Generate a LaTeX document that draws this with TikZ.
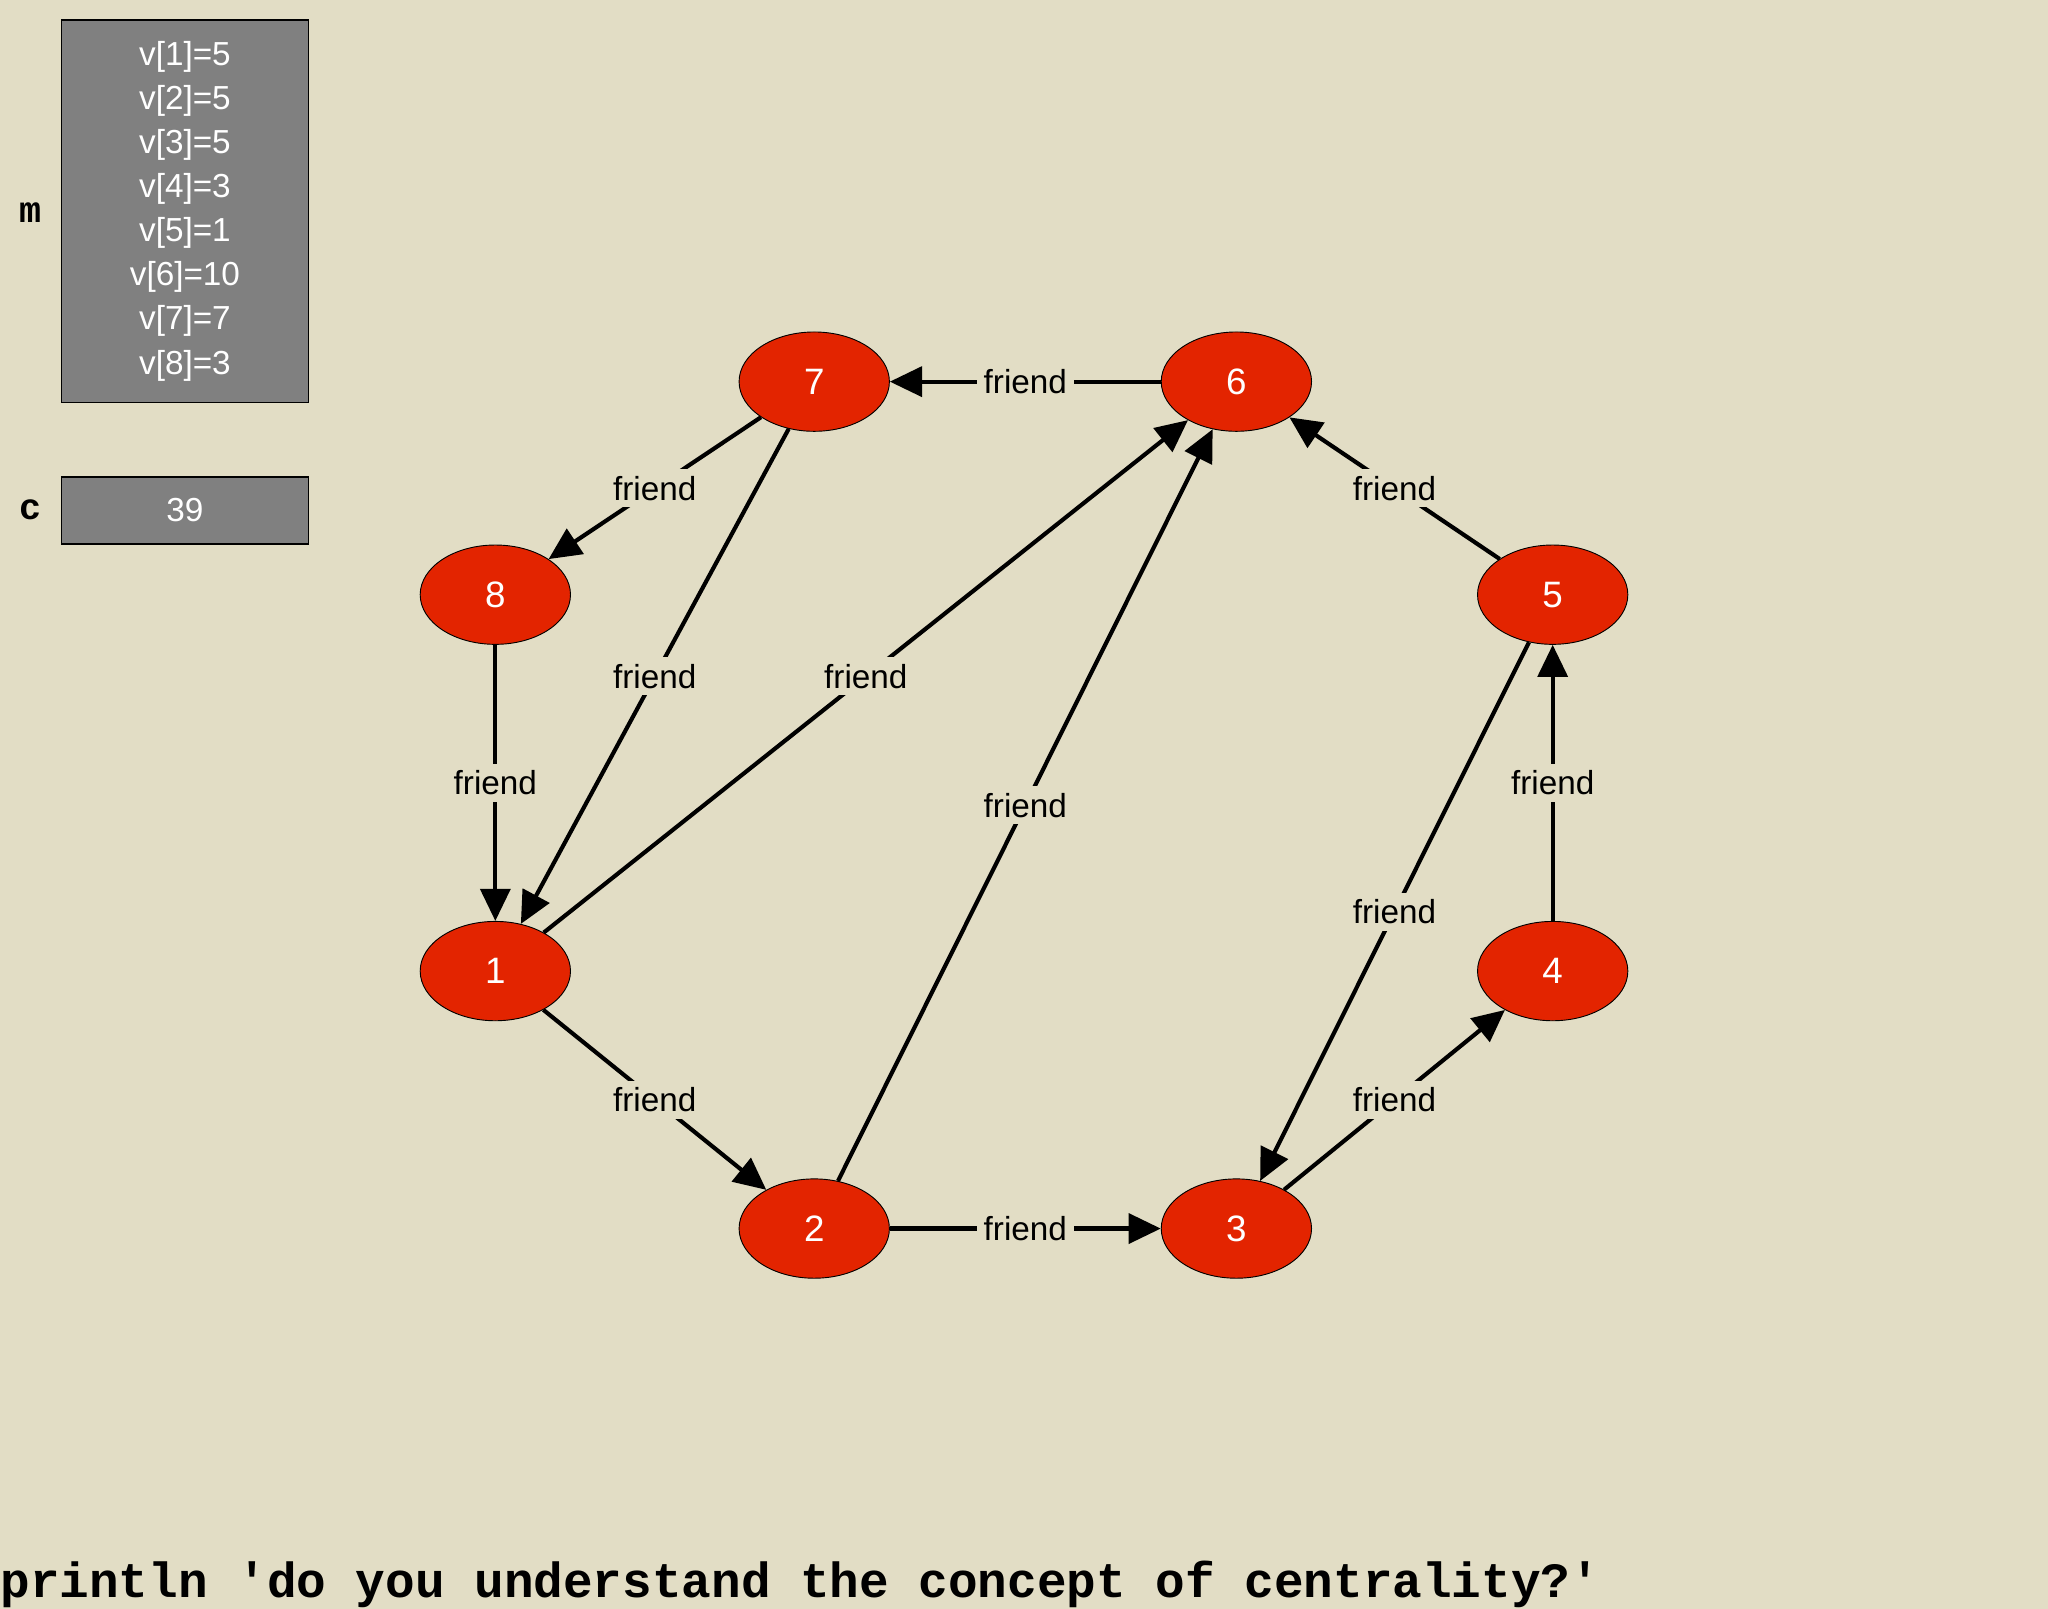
\documentclass[tikz,border=0pt]{standalone}
\usepackage{fontspec}
\setmainfont{Liberation Sans}
\newfontfamily\monob{Liberation Mono}
\usetikzlibrary{shapes.geometric,arrows.meta}
\definecolor{bg}{HTML}{E2DDC5}
\definecolor{nodered}{HTML}{E32400}
\definecolor{boxgray}{HTML}{808080}
\tikzset{
 vert/.style={ellipse,draw=black,fill=nodered,minimum width=115*0.02cm,minimum height=76*0.02cm,text=white,font=\fontsize{16}{18}\selectfont,inner sep=0pt},
 edge/.style={draw=black,line width=1.8pt,-{Triangle[length=14pt,width=13pt]}},
 lab/.style={fill=bg,font=\fontsize{14.5}{16}\selectfont,inner sep=3pt},
 gbox/.style={draw=black,fill=boxgray,text=white,font=\fontsize{14.5}{19.2}\selectfont,align=center,line width=0.8pt},
 side/.style={font=\monob\bfseries\fontsize{16}{18}\selectfont}
}
\begin{document}
\begin{tikzpicture}[x=0.02cm,y=-0.02cm]
\fill[bg] (0,0) rectangle (1567,1231);
\useasboundingbox (0,0) rectangle (1567,1231);
\node[gbox,minimum width=189*0.02cm,minimum height=293*0.02cm] (m) at (141.5,161.5) {v[1]=5\\v[2]=5\\v[3]=5\\v[4]=3\\v[5]=1\\v[6]=10\\v[7]=7\\v[8]=3};
\node[gbox,minimum width=189*0.02cm,minimum height=51*0.02cm] (c) at (141.5,390.5) {39};
\node[side] (ml) at (23,163) {m};
\node[side] (cl) at (23,390) {c};
\node[vert] (n7) at (623,292) {7};
\node[vert] (n6) at (946,292) {6};
\node[vert] (n8) at (379,455) {8};
\node[vert] (n5) at (1188,455) {5};
\node[vert] (n1) at (379,743) {1};
\node[vert] (n4) at (1188,743) {4};
\node[vert] (n2) at (623,940) {2};
\node[vert] (n3) at (946,940) {3};
\foreach \a/\b in {n6/n7,n7/n8,n7/n1,n1/n6,n8/n1,n2/n6,n5/n6,n4/n5,n5/n3,n3/n4,n1/n2,n2/n3}
  \path[edge] (\a) -- node[lab]{friend} (\b);
\node[anchor=west,font=\monob\bfseries\fontsize{21.5}{24}\selectfont,inner sep=0pt] (t) at (0,1212) {println 'do you understand the concept of centrality?'};
\end{tikzpicture}
\end{document}
